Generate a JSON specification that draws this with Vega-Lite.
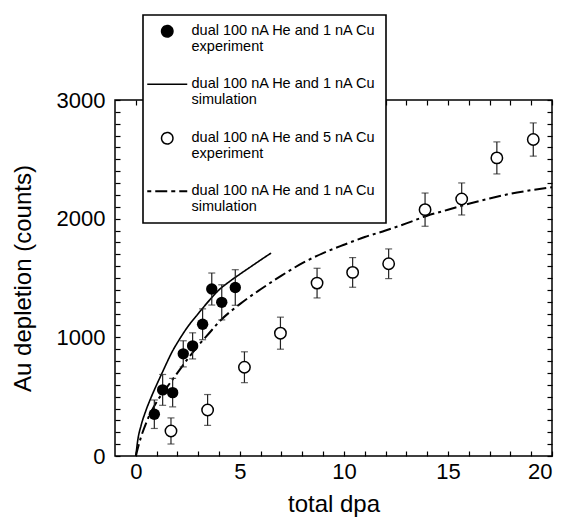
{
  "$schema": "https://vega.github.io/schema/vega-lite/v6.json",
  "width": 437,
  "height": 356,
  "autosize": {"type": "none"},
  "padding": {"left": 115, "top": 100, "right": 14, "bottom": 67},
  "background": "white",
  "config": {
    "font": "Liberation Sans",
    "view": {"stroke": "black", "strokeWidth": 1.5},
    "axis": {
      "labelFont": "Liberation Sans",
      "titleFont": "Liberation Sans",
      "labelColor": "black",
      "titleColor": "black",
      "tickColor": "black",
      "domain": false,
      "grid": false,
      "labelFontSize": 22,
      "titleFontSize": 24,
      "titleFontWeight": "normal",
      "tickWidth": 1.2,
      "labelOverlap": false
    }
  },
  "datasets": {
    "exp": [
      {"series": "A", "dpa": 0.89, "counts": 352, "err": 120},
      {"series": "A", "dpa": 1.29, "counts": 557, "err": 130},
      {"series": "A", "dpa": 1.77, "counts": 534, "err": 120},
      {"series": "A", "dpa": 2.28, "counts": 861, "err": 110},
      {"series": "A", "dpa": 2.73, "counts": 928, "err": 110},
      {"series": "A", "dpa": 3.21, "counts": 1110, "err": 130},
      {"series": "A", "dpa": 3.65, "counts": 1407, "err": 135},
      {"series": "A", "dpa": 4.13, "counts": 1295, "err": 148},
      {"series": "A", "dpa": 4.78, "counts": 1420, "err": 150},
      {"series": "C", "dpa": 1.69, "counts": 211, "err": 110},
      {"series": "C", "dpa": 3.45, "counts": 388, "err": 130},
      {"series": "C", "dpa": 5.22, "counts": 748, "err": 130},
      {"series": "C", "dpa": 6.95, "counts": 1035, "err": 135},
      {"series": "C", "dpa": 8.71, "counts": 1457, "err": 125},
      {"series": "C", "dpa": 10.42, "counts": 1547, "err": 125},
      {"series": "C", "dpa": 12.15, "counts": 1620, "err": 125},
      {"series": "C", "dpa": 13.9, "counts": 2076, "err": 140},
      {"series": "C", "dpa": 15.66, "counts": 2166, "err": 135},
      {"series": "C", "dpa": 17.35, "counts": 2512, "err": 135},
      {"series": "C", "dpa": 19.1, "counts": 2667, "err": 140}
    ],
    "sim": [
      {"series": "B", "dpa": 0, "counts": 0},
      {"series": "B", "dpa": 0.1, "counts": 140},
      {"series": "B", "dpa": 0.25, "counts": 255},
      {"series": "B", "dpa": 0.5, "counts": 390},
      {"series": "B", "dpa": 0.75, "counts": 500},
      {"series": "B", "dpa": 1, "counts": 600},
      {"series": "B", "dpa": 1.25, "counts": 695},
      {"series": "B", "dpa": 1.5, "counts": 790},
      {"series": "B", "dpa": 1.75, "counts": 880},
      {"series": "B", "dpa": 2, "counts": 955},
      {"series": "B", "dpa": 2.5, "counts": 1090},
      {"series": "B", "dpa": 3, "counts": 1200},
      {"series": "B", "dpa": 3.5, "counts": 1305},
      {"series": "B", "dpa": 4, "counts": 1400},
      {"series": "B", "dpa": 4.5, "counts": 1470},
      {"series": "B", "dpa": 5, "counts": 1532},
      {"series": "B", "dpa": 5.5, "counts": 1592},
      {"series": "B", "dpa": 6, "counts": 1652},
      {"series": "B", "dpa": 6.5, "counts": 1710},
      {"series": "D", "dpa": 0, "counts": 0},
      {"series": "D", "dpa": 0.25, "counts": 160},
      {"series": "D", "dpa": 0.5, "counts": 280},
      {"series": "D", "dpa": 1, "counts": 455},
      {"series": "D", "dpa": 1.5, "counts": 580},
      {"series": "D", "dpa": 2, "counts": 700},
      {"series": "D", "dpa": 2.5, "counts": 820},
      {"series": "D", "dpa": 3, "counts": 930},
      {"series": "D", "dpa": 3.5, "counts": 1030},
      {"series": "D", "dpa": 4, "counts": 1130},
      {"series": "D", "dpa": 5, "counts": 1280},
      {"series": "D", "dpa": 6, "counts": 1405},
      {"series": "D", "dpa": 7, "counts": 1520},
      {"series": "D", "dpa": 8, "counts": 1625},
      {"series": "D", "dpa": 9, "counts": 1710},
      {"series": "D", "dpa": 10, "counts": 1780},
      {"series": "D", "dpa": 11, "counts": 1845},
      {"series": "D", "dpa": 12, "counts": 1900},
      {"series": "D", "dpa": 13, "counts": 1960},
      {"series": "D", "dpa": 14, "counts": 2025},
      {"series": "D", "dpa": 15, "counts": 2075},
      {"series": "D", "dpa": 16, "counts": 2125},
      {"series": "D", "dpa": 17, "counts": 2170},
      {"series": "D", "dpa": 18, "counts": 2210},
      {"series": "D", "dpa": 19, "counts": 2240},
      {"series": "D", "dpa": 20, "counts": 2265}
    ]
  },
  "resolve": {"axis": {"x": "independent", "y": "independent"}},
  "layer": [
    {
      "data": {"name": "sim"},
      "mark": {"type": "line", "interpolate": "monotone"},
      "encoding": {
        "x": {
          "field": "dpa", "type": "quantitative",
          "scale": {"domain": [-1, 20], "nice": false, "zero": false},
          "axis": {
            "orient": "bottom", "title": "total dpa",
            "values": [0,1,2,3,4,5,6,7,8,9,10,11,12,13,14,15,16,17,18,19,20],
            "labelExpr": "datum.value % 5 === 0 ? datum.label : ''",
            "tickSize": -5, "labelPadding": 10, "titlePadding": 10
          }
        },
        "y": {
          "field": "counts", "type": "quantitative",
          "scale": {"domain": [0, 3000], "nice": false},
          "axis": {
            "orient": "left", "title": "Au depletion (counts)", "format": "d",
            "values": [0,100,200,300,400,500,600,700,800,900,1000,1100,1200,1300,1400,1500,1600,1700,1800,1900,2000,2100,2200,2300,2400,2500,2600,2700,2800,2900,3000],
            "labelExpr": "datum.value % 1000 === 0 ? datum.label : ''",
            "tickSize": -5, "labelPadding": 15, "titlePadding": 21
          }
        },
        "color": {
          "field": "series", "type": "nominal",
          "scale": {"domain": ["A", "B", "C", "D"], "range": ["black", "black", "black", "black"]},
          "legend": {
            "orient": "none", "legendX": 28, "legendY": -85,
            "title": null,
            "labelExpr": "datum.value === 'A' ? ['dual 100 nA He and 1 nA Cu', 'experiment'] : datum.value === 'B' ? ['dual 100 nA He and 1 nA Cu', 'simulation'] : datum.value === 'C' ? ['dual 100 nA He and 5 nA Cu', 'experiment'] : ['dual 100 nA He and 1 nA Cu', 'simulation']",
            "labelFont": "Liberation Sans", "labelFontSize": 14.5, "labelColor": "black", "labelLimit": 0,
            "labelOffset": 17,
            "symbolOffset": 8,
            "rowPadding": 22,
            "padding": 9,
            "strokeColor": "black", "fillColor": "white",
            "encode": {
              "symbols": {"update": {
                "shape": {"signal": "datum.value === 'B' || datum.value === 'D' ? 'stroke' : 'circle'"},
                "size": {"signal": "datum.value === 'B' || datum.value === 'D' ? 1600 : 130"},
                "fill": {"signal": "datum.value === 'A' ? 'black' : datum.value === 'C' ? 'white' : 'transparent'"},
                "stroke": {"value": "black"},
                "strokeWidth": {"signal": "datum.value === 'D' ? 2 : 1.5"},
                "strokeDash": {"signal": "datum.value === 'D' ? [4, 4, 12, 4] : [1, 0]"},
                "opacity": {"value": 1}
              }},
              "labels": {"update": {"lineHeight": {"value": 16}}},
              "legend": {"update": {"strokeWidth": {"value": 1.6}}}
            }
          }
        },
        "strokeDash": {
          "field": "series", "type": "nominal",
          "scale": {"domain": ["B", "D"], "range": [[1, 0], [12, 4, 3, 4]]},
          "legend": null
        },
        "strokeWidth": {
          "field": "series", "type": "nominal",
          "scale": {"domain": ["B", "D"], "range": [1.6, 2]},
          "legend": null
        }
      }
    },
    {
      "data": {"name": "exp"},
      "mark": {"type": "errorbar", "ticks": {"size": 7}, "color": "#222", "thickness": 1.2},
      "encoding": {
        "x": {"field": "dpa", "type": "quantitative", "axis": null},
        "y": {"field": "counts", "type": "quantitative", "axis": null},
        "yError": {"field": "err"}
      }
    },
    {
      "data": {"name": "exp"},
      "transform": [{"filter": "datum.series === 'A'"}],
      "mark": {"type": "point", "shape": "circle", "filled": true, "color": "black", "size": 130, "opacity": 1},
      "encoding": {
        "x": {
          "field": "dpa", "type": "quantitative",
          "axis": {
            "orient": "top", "title": null, "labels": false,
            "values": [0,1,2,3,4,5,6,7,8,9,10,11,12,13,14,15,16,17,18,19,20],
            "tickSize": -5
          }
        },
        "y": {
          "field": "counts", "type": "quantitative",
          "axis": {
            "orient": "right", "title": null, "labels": false,
            "values": [0,100,200,300,400,500,600,700,800,900,1000,1100,1200,1300,1400,1500,1600,1700,1800,1900,2000,2100,2200,2300,2400,2500,2600,2700,2800,2900,3000],
            "tickSize": -5
          }
        }
      }
    },
    {
      "data": {"name": "exp"},
      "transform": [{"filter": "datum.series === 'C'"}],
      "mark": {"type": "point", "shape": "circle", "filled": false, "fill": "white", "stroke": "black", "strokeWidth": 1.5, "size": 130, "opacity": 1},
      "encoding": {
        "x": {"field": "dpa", "type": "quantitative", "axis": null},
        "y": {"field": "counts", "type": "quantitative", "axis": null}
      }
    }
  ]
}
